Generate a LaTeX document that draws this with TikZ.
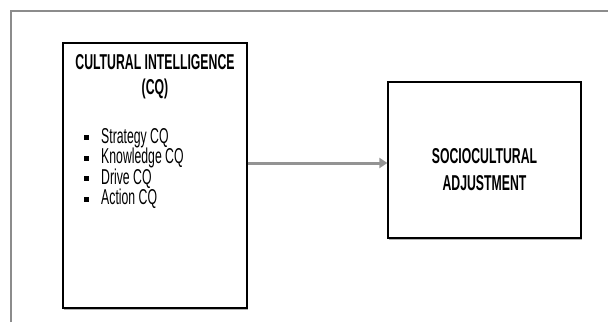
\documentclass[tikz,border=0pt]{standalone}
\usepackage{fontspec}
\setmainfont{Liberation Sans}[FakeStretch=0.57]
\usetikzlibrary{arrows.meta, shadows}
\tikzset{
    block/.style={draw, line width=1.3pt, fill=white, drop shadow={shadow xshift=0.6pt, shadow yshift=-1.5pt, fill=gray!60, opacity=1}},
    link/.style={-{Triangle[length=8pt, width=10pt]}, line width=3pt, gray!85},
    frame/.style={gray!90, line width=1.4pt},
    title/.style={font=\bfseries\fontsize{21.5}{24}\selectfont, inner sep=0pt},
    entry/.style={font=\fontsize{21.5}{21}\selectfont, inner sep=0pt},
    bulletsq/.style={fill=black, inner sep=0pt, minimum size=5pt}
}

\begin{document}
\begin{tikzpicture}[x=1pt, y=-1pt]
    \useasboundingbox (0,0) rectangle (608,322);
    \draw[frame] (11,322) -- (11,11) -- (608,11);
    % boxes
    \node[block, minimum width=184pt, minimum height=265pt] (cq) at (155,175.5) {};
    \node[block, minimum width=193pt, minimum height=156pt] (adj) at (484.5,160) {};
    % left box text
    \node[title, anchor=base] (cqhead) at (155,69) {CULTURAL INTELLIGENCE};
    \node[title, anchor=base] (cqabbr) at (155,94) {(CQ)};
    \foreach \lbl [count=\i] in {Strategy CQ, Knowledge CQ, Drive CQ, Action CQ} {
        \node[entry, anchor=base west] (dim\i) at (101,122.5+20.5*\i) {\lbl};
        \node[bulletsq] (dot\i) at ([shift={(-15,-5.5)}]dim\i.base west) {};
    }
    % right box text
    \node[title, anchor=base] (adjtop) at (484.5,163) {SOCIOCULTURAL};
    \node[title, anchor=base] (adjbot) at (484.5,190) {ADJUSTMENT};
    % link
    \draw[link] ([yshift=-3pt]cq.east |- adj.west) -- ([yshift=-3pt]adj.west);
\end{tikzpicture}
\end{document}
